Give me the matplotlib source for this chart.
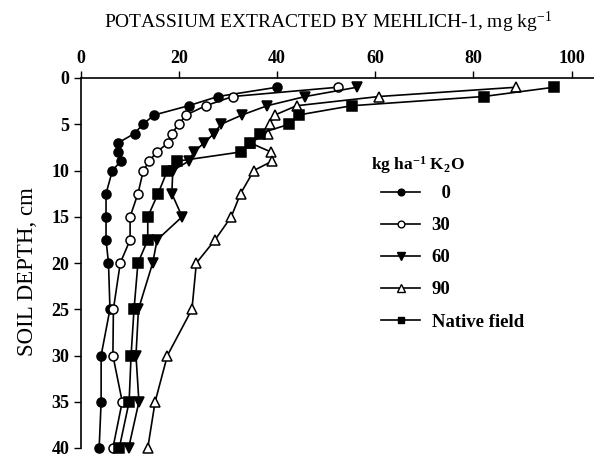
import matplotlib
matplotlib.use("Agg")
import matplotlib.pyplot as plt
from matplotlib.lines import Line2D

plt.rcParams['font.family'] = ['Liberation Serif', 'DejaVu Serif']
plt.rcParams['mathtext.fontset'] = 'custom'
plt.rcParams['mathtext.rm'] = 'Liberation Serif'
plt.rcParams['mathtext.bf'] = 'Liberation Serif:bold'
plt.rcParams['mathtext.it'] = 'Liberation Serif:italic'

# ---- data ----
depth = [1, 2, 3, 4, 5, 6, 7, 8, 9, 10, 12.5, 15, 17.5, 20, 25, 30, 35, 40]
k0 = [40, 28, 22, 15, 12.7, 11, 7.7, 7.7, 8.2, 6.5, 5.2, 5.2, 5.2, 5.7, 6.0, 4.2, 4.2, 3.8]
k30 = [52.4, 31, 25.5, 21.5, 20, 18.6, 17.9, 15.5, 14, 12.8, 11.7, 10.1, 10.1, 8.1, 6.7, 6.6, 8.5, 6.6]
k60 = [56.3, 45.8, 38.0, 32.9, 28.6, 27.2, 25.2, 23.1, 22.0, 18.8, 18.6, 20.7, 15.6, 14.7, 11.8, 11.3, 11.9, 9.8]
k90 = [88.7, 60.8, 44, 39.6, 38.5, 38.1, 34.5, 38.8, 39, 35.3, 32.6, 30.7, 27.4, 23.6, 22.7, 17.7, 15.2, 13.7]
native = [96.4, 82.1, 55.2, 44.4, 42.5, 36.5, 34.6, 32.6, 19.6, 17.7, 15.8, 13.7, 13.7, 11.7, 10.9, 10.3, 9.9, 7.9]
labels = ["  0", "30", "60", "90", "Native field"]
xticks = [0, 20, 40, 60, 80, 100]
yticks = [0, 5, 10, 15, 20, 25, 30, 35, 40]

W, H = 594, 457
fig = plt.figure(figsize=(W / 100, H / 100), dpi=100)
x0, x1 = 80.5, 594
y0, y1 = 78, 448
ax = fig.add_axes([x0 / W, 1 - y1 / H, (x1 - x0) / W, (y1 - y0) / H])

styles = [
    dict(marker='o', mfc='black', ms=6.5),
    dict(marker='o', mfc='white', ms=6.5),
    dict(marker='v', mfc='black', ms=7.5),
    dict(marker='^', mfc='white', ms=7.5),
    dict(marker='s', mfc='black', ms=6.5),
]
series = [k0, k30, k60, k90, native]
for s, st, lab in zip(series, styles, labels):
    ax.plot(s, depth, color='black', lw=1.2, mec='black', mew=1.1,
            clip_on=False, label=lab, **st)

ax.set_xlim(0, (x1 - x0) / 4.91)
ax.set_ylim(40, 0)
ax.set_xticks(xticks)
ax.set_yticks(yticks)
ax.xaxis.tick_top()
ax.tick_params(axis='both', direction='out', length=5, width=1, labelsize=13, pad=3)
for t in ax.get_xticklabels() + ax.get_yticklabels():
    t.set_fontweight('bold')
for sp in ['right', 'bottom']:
    ax.spines[sp].set_visible(False)
for sp in ['left', 'top']:
    ax.spines[sp].set_linewidth(1.2)

fig.text(328 / W, 1 - 22 / H, r"POTASSIUM EXTRACTED BY MEHLICH-1, mg kg$^{\mathregular{-1}}$",
         ha='center', va='center', fontsize=14)
fig.text(28 / W, 1 - 272 / H, "SOIL DEPTH, cm", rotation=90, ha='center', va='center', fontsize=16.5)

fig.text(371 / W, 1 - 165 / H, r"kg ha$^{\mathbf{-1}}$ K$_{\mathbf{2}}$O",
         ha='left', va='center', fontsize=12.5, fontweight='bold')

leg_handles = []
for st in styles:
    d = dict(st)
    d['ms'] = d['ms'] * 0.75
    leg_handles.append(Line2D([], [], color='black', lw=1.2, mec='black', mew=1.0, **d))
fig.legend(leg_handles, labels, loc='upper left',
           bbox_to_anchor=(381 / W, 1 - 185 / H), frameon=False,
           borderpad=0, borderaxespad=0, handlelength=2.1, handletextpad=0.6,
           labelspacing=0.8, prop={'family': 'Liberation Serif', 'weight': 'bold', 'size': 13.5})

fig.savefig("out.png", dpi=100)
